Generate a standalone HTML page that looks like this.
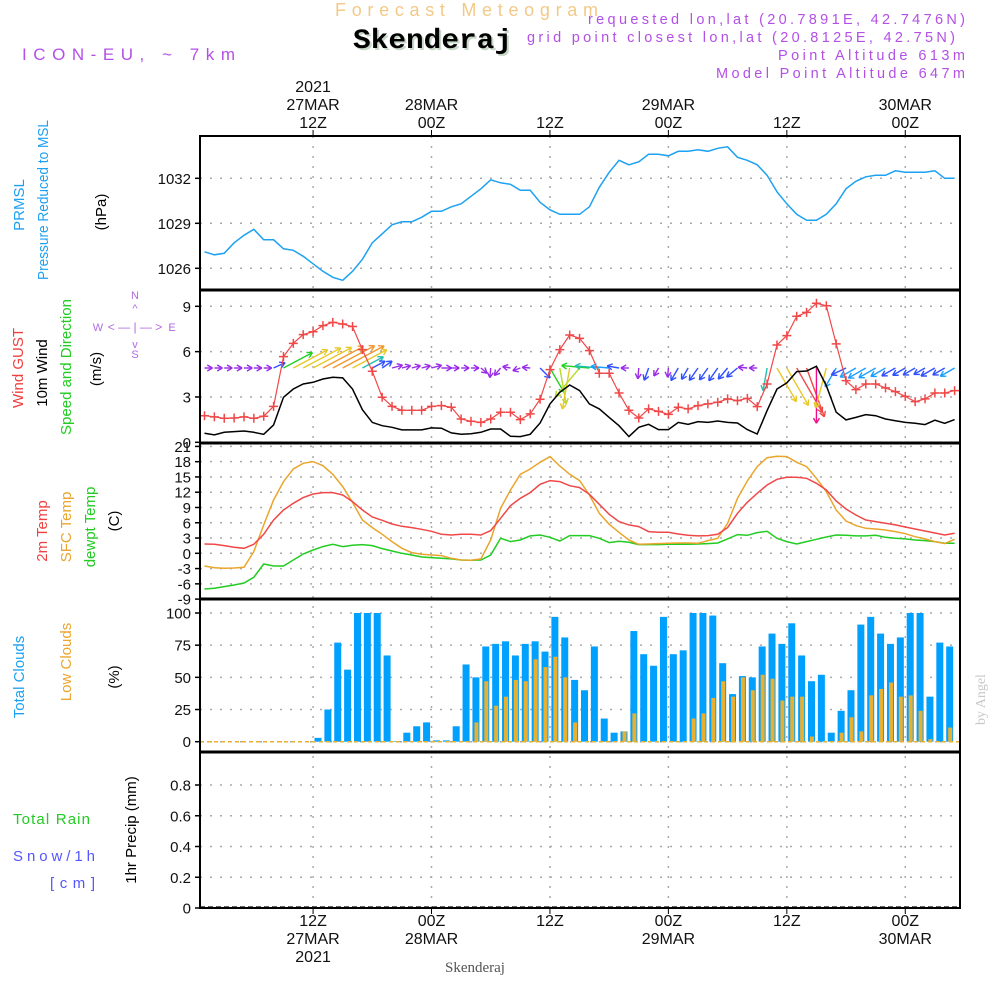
<!DOCTYPE html>
<html><head><meta charset="utf-8"><style>
html,body{margin:0;padding:0;background:#fff;}
svg{display:block;font-family:"Liberation Sans",sans-serif;}
</style></head><body>
<svg id="chart" width="1000" height="1000" viewBox="0 0 1000 1000">
<rect x="0" y="0" width="1000" height="1000" fill="#fff"/>
<!-- header -->
<text x="335" y="16" font-size="18" fill="#f3c987" textLength="263" lengthAdjust="spacing">Forecast Meteogram</text>
<text x="355" y="50" font-size="28" font-weight="bold" font-family="Liberation Mono, monospace" fill="#c8d8c8" textLength="159" lengthAdjust="spacingAndGlyphs">Skenderaj</text>
<text x="353" y="48" font-size="28" font-weight="bold" font-family="Liberation Mono, monospace" fill="#000" textLength="159" lengthAdjust="spacingAndGlyphs">Skenderaj</text>
<text x="588" y="24" font-size="14.5" fill="#b350e6" textLength="377" lengthAdjust="spacing">requested lon,lat (20.7891E, 42.7476N)</text>
<text x="527" y="42" font-size="14.5" fill="#b350e6" textLength="428" lengthAdjust="spacing">grid point closest lon,lat (20.8125E, 42.75N)</text>
<text x="778" y="60" font-size="14.5" fill="#b350e6" textLength="187" lengthAdjust="spacing">Point Altitude 613m</text>
<text x="716" y="78" font-size="14.5" fill="#b350e6" textLength="249" lengthAdjust="spacing">Model Point Altitude 647m</text>
<text x="22" y="60" font-size="17" fill="#b350e6" textLength="213" lengthAdjust="spacing">ICON-EU, ~ 7km</text>
<text transform="translate(985,725) rotate(-90)" font-size="14" fill="#c8c8c8" font-family="Liberation Serif, serif">by Angel</text>
<text x="475" y="972" text-anchor="middle" font-size="15" fill="#555" font-family="Liberation Serif, serif">Skenderaj</text>

<!-- left labels -->
<text transform="translate(24,205) rotate(-90)" text-anchor="middle" font-size="15" fill="#1da1f2">PRMSL</text>
<text transform="translate(48,200) rotate(-90)" text-anchor="middle" font-size="15" fill="#1da1f2" textLength="160" lengthAdjust="spacingAndGlyphs">Pressure Reduced to MSL</text>
<text transform="translate(106,212) rotate(-90)" text-anchor="middle" font-size="15" fill="#000">(hPa)</text>
<text transform="translate(23,368) rotate(-90)" text-anchor="middle" font-size="15" fill="#f04040">Wind GUST</text>
<text transform="translate(47,373) rotate(-90)" text-anchor="middle" font-size="15" fill="#000">10m Wind</text>
<text transform="translate(71,367) rotate(-90)" text-anchor="middle" font-size="15" fill="#22cc22">Speed and Direction</text>
<text transform="translate(101,369) rotate(-90)" text-anchor="middle" font-size="15" fill="#000">(m/s)</text>
<g fill="#b06be0" font-size="11" text-anchor="middle">
<text x="135" y="299">N</text><text x="135" y="358">S</text><text x="98" y="331">W</text><text x="172" y="331">E</text>
<text x="135" y="331" font-size="12">&lt; — | — &gt;</text>
<text x="135" y="312" font-size="11">^</text><text x="135" y="348" font-size="11">v</text>
</g>
<text transform="translate(47,531) rotate(-90)" text-anchor="middle" font-size="15" fill="#f04040">2m Temp</text>
<text transform="translate(71,527) rotate(-90)" text-anchor="middle" font-size="15" fill="#eaa52c">SFC Temp</text>
<text transform="translate(95,527) rotate(-90)" text-anchor="middle" font-size="15" fill="#22cc22">dewpt Temp</text>
<text transform="translate(119,521) rotate(-90)" text-anchor="middle" font-size="15" fill="#000">(C)</text>
<text transform="translate(24,677) rotate(-90)" text-anchor="middle" font-size="15" fill="#1da1f2">Total Clouds</text>
<text transform="translate(71,662) rotate(-90)" text-anchor="middle" font-size="15" fill="#eaa52c">Low Clouds</text>
<text transform="translate(119,677) rotate(-90)" text-anchor="middle" font-size="15" fill="#000">(%)</text>
<text x="13" y="824" font-size="15" fill="#22cc22" textLength="77" lengthAdjust="spacing">Total  Rain</text>
<text x="13" y="861" font-size="15" fill="#5555ff" textLength="82" lengthAdjust="spacing">Snow/1h</text>
<text x="50" y="888" font-size="15" fill="#5555ff" textLength="45" lengthAdjust="spacing">[cm]</text>
<text transform="translate(136,830) rotate(-90)" text-anchor="middle" font-size="15" fill="#000">1hr Precip (mm)</text>

<g id="grid"></g>
<g id="marks"></g>
<g id="frames"></g>
<g id="labels" font-size="15" fill="#111"></g>
</svg>
<script>
// ---------- data ----------
const hours = [];
for (let h = 1; h <= 77; h++) hours.push(h);
const pressure = [1027.1,1026.9,1027.0,1027.7,1028.2,1028.6,1027.9,1027.9,1027.3,1027.2,1026.8,1026.3,1025.8,1025.4,1025.2,1025.8,1026.6,1027.7,1028.3,1028.9,1029.1,1029.1,1029.4,1029.8,1029.8,1030.1,1030.3,1030.8,1031.3,1031.9,1031.7,1031.6,1031.2,1031.2,1030.4,1029.9,1029.6,1029.6,1029.6,1030.1,1031.4,1032.4,1033.2,1032.9,1033.1,1033.6,1033.6,1033.5,1033.8,1033.8,1033.9,1033.8,1034.0,1034.1,1033.4,1033.2,1032.9,1032.2,1031.1,1030.3,1029.6,1029.2,1029.2,1029.6,1030.3,1031.3,1031.8,1032.1,1032.2,1032.2,1032.5,1032.4,1032.4,1032.4,1032.5,1032.0,1032.0];
const gust = [1.76,1.68,1.59,1.61,1.68,1.59,1.72,2.38,5.67,6.55,7.13,7.32,7.72,7.94,7.83,7.66,6.13,4.70,2.98,2.38,2.12,2.12,2.12,2.38,2.43,2.32,1.54,1.39,1.32,1.54,1.99,1.99,1.50,1.88,2.85,4.81,6.13,7.10,6.88,
6.07,4.57,4.57,3.26,2.12,1.61,2.21,2.05,1.85,2.32,2.21,2.43,2.54,2.65,2.87,2.76,2.91,2.36,3.86,6.44,7.06,8.34,8.60,9.20,9.04,6.51,4.08,3.49,3.86,3.86,3.60,3.35,3.04,2.69,2.87,3.26,3.26,3.42];
const wind10 = [0.60,0.49,0.66,0.71,0.75,0.66,0.53,1.15,2.98,3.53,3.86,3.97,4.19,4.30,4.26,3.53,2.16,1.32,1.10,0.99,0.82,0.82,0.82,0.95,0.93,0.62,0.53,0.57,0.66,0.88,0.88,0.40,0.38,0.53,1.28,2.54,3.31,3.79,3.42,
2.54,2.21,1.65,1.10,0.38,0.99,1.19,0.84,0.84,1.32,1.19,1.37,1.32,1.41,1.32,1.28,0.84,0.55,2.10,3.53,3.93,4.68,4.72,5.03,3.75,1.99,1.48,1.65,1.83,1.76,1.54,1.43,1.32,1.26,1.17,1.46,1.26,1.50];
const windDir = [0,0,0,0,0,0,0,25,28,28,28,28,28,28,28,28,28,28,35,15,15,15,15,15,0,0,0,0,-40,-95,-130,170,-160,175,-45,-60,-80,-100,-130,
175,175,175,170,180,-95,-110,-120,-95,-120,-120,-125,-125,-125,-130,-140,175,180,-100,-60,-60,-60,-70,-90,-105,-120,-155,-150,-150,-150,-150,-150,-150,-150,-150,-150,-150,-150];
const temp2m = [1.83,1.77,1.51,1.18,0.98,1.77,3.73,6.55,8.51,9.82,10.94,11.66,11.92,11.92,11.46,10.15,8.51,7.14,6.48,5.76,5.30,5.04,4.72,4.32,3.73,3.60,3.73,3.73,3.60,4.45,6.88,9.36,10.81,11.92,13.56,14.28,14.08,13.29,12.90,
11.59,9.63,7.66,6.22,5.57,5.24,4.26,4.13,4.13,3.80,3.54,3.41,3.47,3.73,5.04,7.86,10.02,11.79,13.42,14.54,14.93,14.93,14.73,13.75,12.44,10.28,8.71,7.53,6.55,6.22,5.89,5.57,5.17,4.78,4.39,3.99,3.60,3.93];
const tempSfc = [-2.49,-2.82,-2.95,-2.88,-2.75,0.33,5.57,10.48,14.08,16.57,17.68,18.01,17.22,15.52,13.10,10.02,6.55,5.04,3.73,2.29,0.98,0.13,-0.20,-0.33,-0.46,-0.98,-1.31,-1.38,-1.11,2.62,8.84,12.44,15.52,16.57,17.88,18.99,17.16,15.52,14.28,
11.46,7.86,5.70,4.13,2.62,1.77,1.83,1.90,1.96,2.03,2.03,1.96,2.49,2.95,5.89,10.81,14.21,17.03,18.79,19.06,18.99,17.88,17.03,14.73,12.12,8.51,6.35,5.44,4.91,4.78,4.58,4.26,3.86,3.27,2.82,2.29,1.90,2.75];
const dewpt = [-7.01,-6.88,-6.55,-6.22,-5.83,-4.72,-2.10,-2.49,-2.49,-1.31,-0.13,0.65,1.31,1.77,1.31,1.57,1.70,1.51,0.92,0.46,0,-0.33,-0.72,-0.85,-0.98,-1.11,-1.31,-1.38,-1.31,-0.33,2.95,2.29,2.62,3.41,3.60,3.14,2.42,3.47,3.47,
3.47,2.95,2.10,2.36,2.16,1.70,1.70,1.70,1.77,1.77,1.77,1.83,1.90,2.03,2.82,3.67,3.54,4.06,4.32,2.95,2.29,1.83,2.29,2.75,3.21,3.60,3.54,3.41,3.41,3.54,3.14,2.95,2.82,2.62,2.49,2.29,1.96,1.96];
const totalClouds = [0,0,0,0,0,0,0,0,0,0,0,3,25,77,56,100,100,100,67,0.5,7,12,15,1,1,12,60,50,74,76,78,67,76,78,70,97,81,48,
40,74,18,7,8,86,68,59,97,68,71,100,100,98,61,37,51,50,74,84,76,92,67,47,52,7,24,40,91,97,84,76,81,100,100,35,77,74];
const lowClouds = [0,0,0,0,0,0,0,0,0,0,0,0,0,0,0,0,0,0,0,0,0,0,0,0,0,0,0,15,47,28,35,48,47,64,58,66,50,15,
0,0,0,0,8,22,0,0,0,0,0,18,22,34,47,35,50,40,52,49,32,35,35,4,0,0,7,19,8,36,41,46,35,36,24,2,0,11];
const precip = new Array(77).fill(0);
const pTicks = [1026,1029,1032];
const wTicks = [0,3,6,9];
const tTicks = [-9,-6,-3,0,3,6,9,12,15,18,21];
const cTicks = [0,25,50,75,100];
const rTicks = [0,0.2,0.4,0.6,0.8];
const rTickLabels = ["0","0.2","0.4","0.6","0.8"];
const timeTicks = [12,24,36,48,60,72];
const timeTop = [["2021","27MAR","12Z"],["","28MAR","00Z"],["","","12Z"],["","29MAR","00Z"],["","","12Z"],["","30MAR","00Z"]];
const timeBottom = [["12Z","27MAR","2021"],["00Z","28MAR",""],["12Z","",""],["00Z","29MAR",""],["12Z","",""],["00Z","30MAR",""]];

// ---------- scales ----------
const X0 = 200, X1 = 960;
const xOf = h => 204.5 + (h - 1) * 9.87;
const yP = p => 178.3 - (p - 1032) * 15;
const yW = v => 442.3 - v * 15.11;
const yT = t => 553.3 - t * 5.09;
const yC = c => 741.7 - c * 1.287;
const yR = r => 908 - r * 153.75;
const panels = [[136,290],[290,443],[443,599],[599,752],[752,908]];

const NS = "http://www.w3.org/2000/svg";
function mk(tag, attrs, parent) {
  const e = document.createElementNS(NS, tag);
  for (const k in attrs) e.setAttribute(k, attrs[k]);
  parent.appendChild(e);
  return e;
}
const grid = document.getElementById('grid');
const marks = document.getElementById('marks');
const frames = document.getElementById('frames');
const labels = document.getElementById('labels');

function hgrid(vals, yf, panelIdx, fmt) {
  vals.forEach((v, i) => {
    const y = yf(v);
    const g = mk('line', {x1: X0, x2: X1, y1: y, y2: y, stroke: '#aaa', 'stroke-width': 1.5, 'stroke-dasharray': '2,8'}, grid);
    
    
    mk('line', {x1: 195, x2: 200, y1: y, y2: y, stroke: '#000', 'stroke-width': 1.5}, frames);
    const t = mk('text', {x: 191, y: y + 5.5, 'text-anchor': 'end'}, labels);
    t.textContent = fmt ? fmt(v, i) : String(v);
    
    
  });
}
hgrid(pTicks, yP);
hgrid(wTicks, yW);
hgrid(tTicks, yT);
hgrid(cTicks, yC);
hgrid(rTicks, yR, 4, (v, i) => rTickLabels[i]);
timeTicks.forEach((h, i) => {
  const x = xOf(h);
  const g = mk('line', {x1: x, x2: x, y1: 136, y2: 908, stroke: '#aaa', 'stroke-width': 1.5, 'stroke-dasharray': '2,8'}, grid);
  
  
  mk('line', {x1: x, x2: x, y1: 130, y2: 136, stroke: '#000', 'stroke-width': 1}, frames);
  mk('line', {x1: x, x2: x, y1: 908, y2: 914, stroke: '#000', 'stroke-width': 1}, frames);
  timeTop[i].forEach((s, j) => {
    if (!s) return;
    const t = mk('text', {x: x, y: 92 + j * 18, 'text-anchor': 'middle', 'font-size': 16}, labels);
    t.textContent = s;
    
    
  });
  timeBottom[i].forEach((s, j) => {
    if (!s) return;
    const t = mk('text', {x: x, y: 926 + j * 18, 'text-anchor': 'middle', 'font-size': 16}, labels);
    t.textContent = s;
    
    
  });
});

function line(vals, yf, color, name, w) {
  const d = vals.map((v, i) => (i ? 'L' : 'M') + xOf(hours[i]).toFixed(1) + ',' + yf(v).toFixed(1)).join('');
  const p = mk('path', {d: d, fill: 'none', stroke: color, 'stroke-width': w || 1.5}, marks);
  
  
}

line(pressure, yP, '#1da1f2', 'pressure-line');

function windColor(s) {
  if (s < 1) return '#9a2be8';
  if (s < 1.5) return '#3050ff';
  if (s < 2) return '#1a9fff';
  if (s < 2.5) return '#20c0b0';
  if (s < 3) return '#22d022';
  if (s < 3.5) return '#b4dc28';
  if (s < 4) return '#e8c828';
  if (s < 4.5) return '#f09830';
  if (s < 5) return '#f04848';
  return '#f0108c';
}
hours.forEach((h, i) => {
  const s = wind10[i];
  const a = windDir[i] * Math.PI / 180;
  const len = Math.max(8, s * 11);
  const bx = xOf(h), by = 368;
  const tx = bx + Math.cos(a) * len, ty = by - Math.sin(a) * len;
  const c = windColor(s);
  const g = mk('g', {stroke: c, 'stroke-width': 1.4, fill: 'none'}, marks);
  
  
  mk('line', {x1: bx, y1: by, x2: tx, y2: ty}, g);
  [2.6, -2.6].forEach(o => {
    const b = a + Math.PI + o * 0.2;
    mk('line', {x1: tx, y1: ty, x2: tx + Math.cos(b) * 6, y2: ty - Math.sin(b) * 6}, g);
  });
});
line(wind10, yW, '#000', 'wind-10m-line');
line(gust, yW, '#f04848', 'wind-gust-line', 1.2);
hours.forEach((h, i) => {
  const x = xOf(h), y = yW(gust[i]);
  const p = mk('path', {d: `M${x-4.5},${y}H${x+4.5}M${x},${y-4.5}V${y+4.5}`, stroke: '#f04848', 'stroke-width': 1.5}, marks);
  
  
});

line(dewpt, yT, '#22cc22', 'dewpt-line');
line(tempSfc, yT, '#eaa52c', 'sfc-temp-line');
line(temp2m, yT, '#f04848', 'temp-2m-line');

hours.forEach((h, i) => {
  const xc = xOf(h + 0.5);
  const tc = totalClouds[i];
  if (tc > 0) {
    const r = mk('rect', {x: xc - 3.5, y: yC(tc), width: 7, height: yC(0) - yC(tc), fill: '#00a0ff'}, marks);
    
    
  }
  const lc = lowClouds[i];
  if (lc > 0) {
    const r = mk('rect', {x: xc - 1.5, y: yC(lc), width: 4, height: yC(0) - yC(lc), fill: '#e8b030'}, marks);
    
    
  }
});
mk('line', {x1: X0, x2: X1, y1: yC(0), y2: yC(0), stroke: '#e8b030', 'stroke-width': 1.5, 'stroke-dasharray': '4,3'}, marks);

hours.forEach((h, i) => {
  if (precip[i] > 0) {
    const r = mk('rect', {x: xOf(h) - 3, y: yR(precip[i]), width: 6, height: yR(0) - yR(precip[i]), fill: '#22cc22'}, marks);
    
    
  }
});
mk('line', {x1: X0, x2: X1, y1: 907, y2: 907, stroke: '#333', 'stroke-width': 1.5, 'stroke-dasharray': '5,3'}, marks);

panels.forEach(([t, b]) => {
  const r = mk('rect', {x: X0, y: t, width: X1 - X0, height: b - t, fill: 'none', stroke: '#000', 'stroke-width': 2}, frames);
  
  
});
[290, 443, 599, 752].forEach(y => mk('line', {x1: X0, x2: X1, y1: y, y2: y, stroke: '#000', 'stroke-width': 3}, frames));
</script>
</body></html>
